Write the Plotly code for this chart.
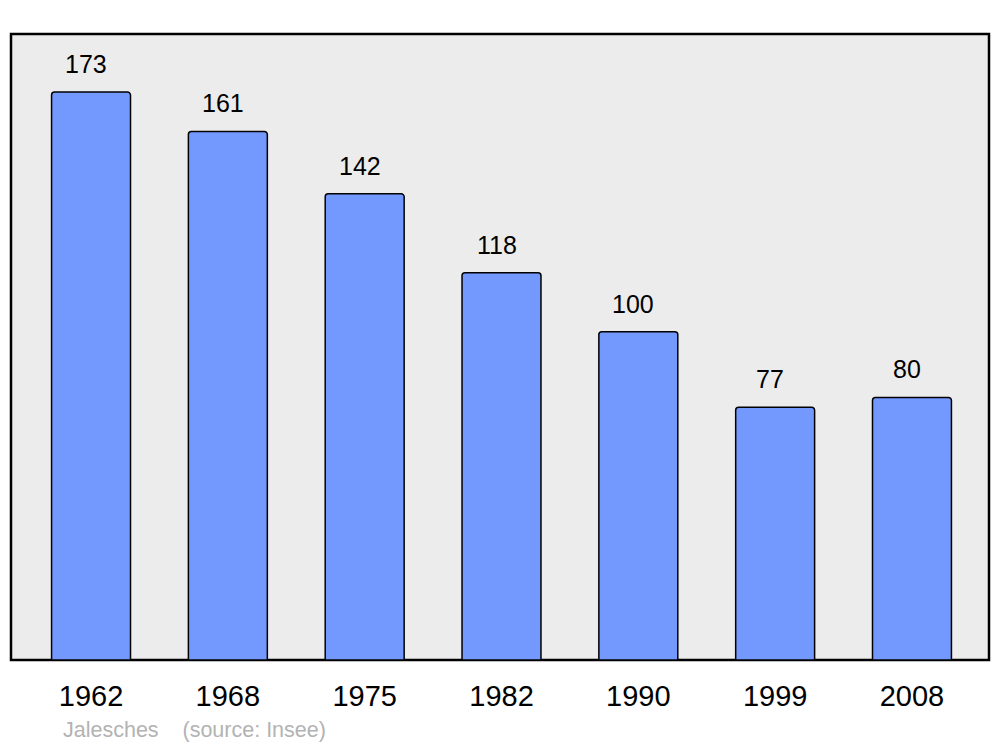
import plotly.graph_objects as go

years = ["1962", "1968", "1975", "1982", "1990", "1999", "2008"]
population = [173, 161, 142, 118, 100, 77, 80]
title_text = "Jalesches"
source_text = "(source: Insee)"

fig = go.Figure()
fig.add_trace(go.Bar(
    x=years, y=population,
    width=0.577,
    marker=dict(color="#7399ff", line=dict(color="black", width=1.5), cornerradius=3),
    hoverinfo="skip",
))

for i, v in enumerate(population):
    fig.add_annotation(x=i, y=v, xref="x", yref="y", text=str(v), showarrow=False,
                       yanchor="middle", yshift=28, xshift=-5,
                       font=dict(family="Liberation Sans, Arial", size=25, color="black"))

fig.add_annotation(xref="paper", yref="paper", x=0.051, y=-0.112,
                   xanchor="left", yanchor="middle", showarrow=False,
                   text=title_text + "&nbsp;&nbsp;&nbsp;&nbsp;" + source_text,
                   font=dict(family="Liberation Sans, Arial", size=21.5, color="#b3b3b3"))

fig.add_shape(type="rect", xref="paper", yref="paper", x0=0, x1=1, y0=0, y1=1,
              line=dict(color="black", width=2.5), fillcolor="#ececec", layer="below")

fig.update_layout(
    width=1000, height=747,
    margin=dict(l=11, r=11, t=34, b=87),
    paper_bgcolor="white", plot_bgcolor="rgba(0,0,0,0)",
    showlegend=False,
    xaxis=dict(type="category", range=[-0.585, 6.563], showgrid=False, zeroline=False,
               ticks="outside", ticklen=10, tickcolor="rgba(0,0,0,0)",
               tickfont=dict(family="Liberation Sans, Arial", size=29, color="black"),
               fixedrange=True),
    yaxis=dict(range=[0, 190.7], showgrid=False, zeroline=False, showticklabels=False,
               fixedrange=True),
)

fig.write_html("out.html", config={"displayModeBar": False},
               post_script="document.body.style.margin='0';")
